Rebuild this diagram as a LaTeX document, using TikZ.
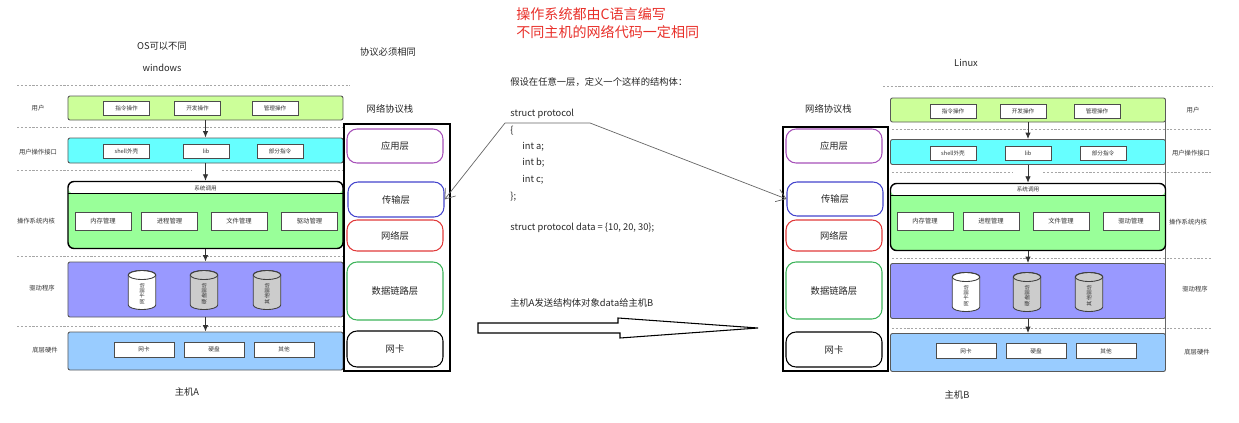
\documentclass[tikz,border=0pt]{standalone}
\usepackage{fontspec}
\setmainfont{Noto Sans CJK SC}
\usepackage{tikz}
\usetikzlibrary{arrows.meta,positioning,shapes.geometric,calc}
\definecolor{cuser}{HTML}{CCFF99}
\definecolor{ciface}{HTML}{66FFFF}
\definecolor{ckernel}{HTML}{99FF99}
\definecolor{cdriver}{HTML}{9999FF}
\definecolor{chw}{HTML}{99CCFF}
\definecolor{cdisk}{HTML}{CCCCCC}
\definecolor{lapp}{HTML}{A650B8}
\definecolor{ltrans}{HTML}{4444CC}
\definecolor{lnet}{HTML}{E03A3A}
\definecolor{llink}{HTML}{3DB35A}
\definecolor{cnote}{HTML}{E8302A}

\begin{document}
\begin{tikzpicture}[
  x=0.2mm, y=-0.2mm,
  font=\fontsize{5.3}{6.4}\selectfont,
  lab/.style={text=black!85},
  rowlab/.style={text=black!80, font=\fontsize{3.6}{4.3}\selectfont},
  tiny/.style={text=black!80, font=\fontsize{3.2}{3.8}\selectfont},
  bar/.style={draw=black!65, line width=0.5pt, rounded corners=0.4mm, minimum width=55mm, inner sep=0pt},
  user/.style={bar, fill=cuser, minimum height=4.8mm},
  iface/.style={bar, fill=ciface, minimum height=5mm},
  driver/.style={bar, fill=cdriver, minimum height=11mm},
  hw/.style={bar, fill=chw, minimum height=7.6mm},
  kernel/.style={draw, line width=0.8pt, rounded corners=1.2mm, fill=ckernel, minimum width=55mm, minimum height=13.4mm, inner sep=0pt,
    path picture={\fill[white] (path picture bounding box.north west) rectangle ([yshift=-2.4mm]path picture bounding box.north east);
      \draw[line width=0.5pt] ([yshift=-2.4mm]path picture bounding box.north west) -- ([yshift=-2.4mm]path picture bounding box.north east);}},
  item/.style={draw=black!70, fill=white, line width=0.45pt, inner sep=0pt, minimum width=9.2mm, minimum height=2.8mm, tiny},
  kitem/.style={item, minimum width=11.2mm, minimum height=3.6mm, font=\fontsize{3.6}{4.3}\selectfont},
  hitem/.style={item, minimum width=12mm, minimum height=3mm},
  cyl/.style={minimum width=5.8mm, minimum height=8.2mm, inner sep=0pt,
    path picture={
      \path[fill=#1, draw=black!75, line width=0.5pt] ([shift={(-2.75mm,3mm)}]path picture bounding box.center) -- ([shift={(-2.75mm,-3mm)}]path picture bounding box.center)
        arc[start angle=180, end angle=360, x radius=2.75mm, y radius=0.9mm] -- ([shift={(2.75mm,3mm)}]path picture bounding box.center)
        arc[start angle=0, end angle=180, x radius=2.75mm, y radius=0.9mm] -- cycle;
      \draw[black!75, line width=0.5pt] ([shift={(0mm,3mm)}]path picture bounding box.center) ellipse [x radius=2.75mm, y radius=0.9mm];}},
  cyltext/.style={tiny, rotate=90, font=\fontsize{3}{3.6}\selectfont},
  stack/.style={draw, line width=0.8pt, minimum width=21.2mm, minimum height=49.4mm},
  layer/.style={draw, line width=0.6pt, rounded corners=2mm, minimum width=19.2mm, inner sep=0pt, text=black!85},
  sep/.style={black!35, line width=0.3pt, dash pattern=on 1.2pt off 1pt},
  flow/.style={-{Latex[length=1.3mm,width=1.1mm]}, line width=0.5pt, black!80},
  ptr/.style={black!60, line width=0.4pt},
  code/.style={anchor=west, inner sep=0pt, text=black!85},
  note/.style={anchor=west, inner sep=0pt, text=cnote, font=\fontsize{8}{9.6}\selectfont}
]
\useasboundingbox (0,0) rectangle (1239,422);

\node[note] (n1) at (516,14) {操作系统都由C语言编写};
\node[note] (n2) at (516,32) {不同主机的网络代码一定相同};

\draw[sep] (17,85) -- (350,85);
\draw[sep] (17,127) -- (343,127);
\draw[sep] (17,170) -- (192,170);
\draw[sep] (222,170) -- (343,170);
\draw[sep] (17,256) -- (343,256);
\draw[sep] (17,326) -- (343,326);

\draw[sep] (883,86) -- (1212,86);
\draw[sep] (892,129) -- (1212,129);
\draw[sep] (892,172) -- (1013,172);
\draw[sep] (1043,172) -- (1212,172);
\draw[sep] (892,258) -- (1212,258);
\draw[sep] (892,328) -- (1212,328);

\node[lab] (osa) at (162,46) {OS可以不同};
\node[lab] (wa) at (162,68) {windows};
\node[lab] (lb) at (966,63) {Linux};
\node[lab] (same) at (388,52) {协议必须相同};

\node[rowlab] (ra1) at (38,108) {用户};
\node[rowlab] (ra2) at (38,152) {用户操作接口};
\node[rowlab] (ra3) at (36,221) {操作系统内核};
\node[rowlab] (ra4) at (42,288) {驱动程序};
\node[rowlab] (ra5) at (45,350) {底层硬件};

\node[user] (au) at (205.5,108) {};
\node[item] (au1) at (126.5,108) {指令操作};
\node[item] (au2) at (197.5,108) {开发操作};
\node[item] (au3) at (275,108) {管理操作};

\node[iface] (ai) at (205.5,150.5) {};
\node[item] (ai1) at (126.5,151) {shell外壳};
\node[item] (ai2) at (206,151) {lib};
\node[item] (ai3) at (280,151) {部分指令};

\node[kernel] (ak) at (205.5,215) {};
\node[tiny] (ak0) at (205.5,188) {系统调用};
\node[kitem] (ak1) at (103,221) {内存管理};
\node[kitem] (ak2) at (169.5,221) {进程管理};
\node[kitem] (ak3) at (239,221) {文件管理};
\node[kitem] (ak4) at (309.5,221) {驱动管理};

\node[driver] (ad) at (205.5,289.5) {};
\node[cyl=white] (ad1) at (142,290) {};
\node[cyl=cdisk] (ad2) at (204,290) {};
\node[cyl=cdisk] (ad3) at (267,290) {};
\node[cyltext] (ad1t) at ([yshift=-0.7mm]ad1.center) {网卡驱动};
\node[cyltext] (ad2t) at ([yshift=-0.7mm]ad2.center) {硬盘驱动};
\node[cyltext] (ad3t) at ([yshift=-0.7mm]ad3.center) {其他驱动};

\node[hw] (ah) at (205.5,351) {};
\node[hitem] (ah1) at (144,349.5) {网卡};
\node[hitem] (ah2) at (214,349.5) {硬盘};
\node[hitem] (ah3) at (284,349.5) {其他};

\draw[flow] (au.south) -- (ai.north);
\draw[flow] (ai.south) -- (ak.north);
\draw[flow] (ak.south) -- (ad.north);
\draw[flow] (ad.south) -- (ah.north);

\node[lab] (ha) at (187,392) {主机A};

\node[lab] (psa) at (390,109) {网络协议栈};
\node[stack] (sa) at (397,247.5) {};
\node[layer, draw=lapp, minimum height=6.8mm] (la1) at (395,146) {应用层};
\node[layer, draw=ltrans, minimum height=7mm] (la2) at (396,199.5) {传输层};
\node[layer, draw=lnet, minimum height=6.2mm] (la3) at (395,235.5) {网络层};
\node[layer, draw=llink, minimum height=11.6mm] (la4) at (395,291) {数据链路层};
\node[layer, draw=black, minimum height=7.2mm] (la5) at (395,349) {网卡};

\node[code] (t0) at (510,82) {假设在任意一层，定义一个这样的结构体：};
\node[code] (t1) at (510,114) {struct protocol};
\node[code] (t2) at (510,131) {\{};
\node[code] (t3) at (522,147) {int a;};
\node[code] (t4) at (522,163) {int b;};
\node[code] (t5) at (522,180) {int c;};
\node[code] (t6) at (510,197) {\};};
\node[code] (t7) at (510,228) {struct protocol data = \{10, 20, 30\};};
\node[code] (t8) at (510,303) {主机A发送结构体对象data给主机B};

\draw[line width=0.6pt] (478,323) -- (618,323) -- (618,318) -- (758,328) -- (620,338) -- (620,333) -- (478,333) -- cycle;

\node[lab] (psb) at (828.5,109) {网络协议栈};
\node[stack, minimum width=21mm, minimum height=48.8mm] (sb) at (835.5,249) {};
\node[layer, draw=lapp, minimum height=6.8mm] (lb1) at (834,146) {应用层};
\node[layer, draw=ltrans, minimum height=6.8mm] (lb2) at (835,199) {传输层};
\node[layer, draw=lnet, minimum height=6.2mm] (lb3) at (834,235.5) {网络层};
\node[layer, draw=llink, minimum height=11.4mm] (lb4) at (834,290.5) {数据链路层};
\node[layer, draw=black, minimum height=7mm] (lb5) at (834,349.5) {网卡};

\coordinate (ul) at (505,123);
\coordinate (ur) at (590,123);
\draw[ptr, {Straight Barb[length=1.8mm,width=2.6mm]}-{Straight Barb[length=1.8mm,width=2.6mm]}] (la2.east) -- (ul) -- (ur) -- (lb2.west);

\draw[black!60, line width=0.4pt] (1165,110) -- (1165,352);

\node[user] (bu) at (1028,110) {};
\node[item] (bu1) at (953,111) {指令操作};
\node[item] (bu2) at (1023,111) {开发操作};
\node[item] (bu3) at (1097,111) {管理操作};

\node[iface] (bi) at (1028,152) {};
\node[item] (bi1) at (953,153.5) {shell外壳};
\node[item] (bi2) at (1028,153.5) {lib};
\node[item] (bi3) at (1103,153.5) {部分指令};

\node[kernel] (bk) at (1028,217) {};
\node[tiny] (bk0) at (1028,189) {系统调用};
\node[kitem] (bk1) at (925,221.5) {内存管理};
\node[kitem] (bk2) at (991,221.5) {进程管理};
\node[kitem] (bk3) at (1061,221.5) {文件管理};
\node[kitem] (bk4) at (1131,221.5) {驱动管理};

\node[driver] (bd) at (1028,291) {};
\node[cyl=white] (bd1) at (966,292) {};
\node[cyl=cdisk] (bd2) at (1027,292) {};
\node[cyl=cdisk] (bd3) at (1089,292) {};
\node[cyltext] (bd1t) at ([yshift=-0.7mm]bd1.center) {网卡驱动};
\node[cyltext] (bd2t) at ([yshift=-0.7mm]bd2.center) {硬盘驱动};
\node[cyltext] (bd3t) at ([yshift=-0.7mm]bd3.center) {其他驱动};

\node[hw] (bh) at (1028,352.5) {};
\node[hitem] (bh1) at (966,351) {网卡};
\node[hitem] (bh2) at (1036,351) {硬盘};
\node[hitem] (bh3) at (1106,351) {其他};

\draw[flow] (bu.south) -- (bi.north);
\draw[flow] (bi.south) -- (bk.north);
\draw[flow] (bk.south) -- (bd.north);
\draw[flow] (bd.south) -- (bh.north);

\node[lab] (hb) at (957,395) {主机B};

\node[rowlab] (rb1) at (1193,110) {用户};
\node[rowlab] (rb2) at (1191,153) {用户操作接口};
\node[rowlab] (rb3) at (1188,222) {操作系统内核};
\node[rowlab] (rb4) at (1195,289) {驱动程序};
\node[rowlab] (rb5) at (1197,352) {底层硬件};
\end{tikzpicture}
\end{document}
